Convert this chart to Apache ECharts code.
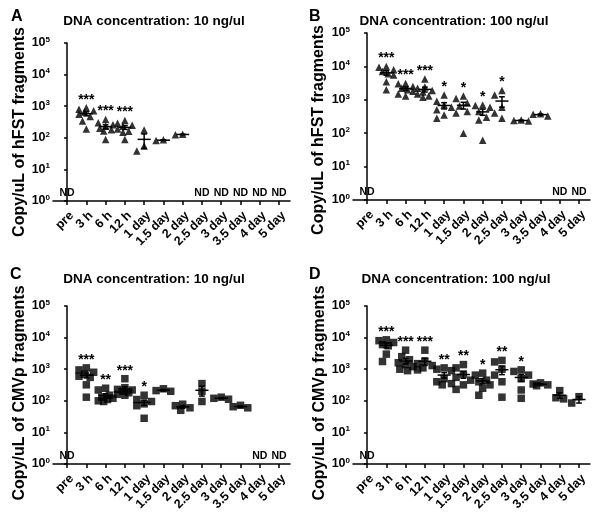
<!DOCTYPE html>
<html><head><meta charset="utf-8">
<script src="https://cdn.jsdelivr.net/npm/echarts@6/dist/echarts.min.js"></script>
<style>html,body{margin:0;padding:0;background:#fff}#c{width:600px;height:516px}</style>
</head><body><div id="c"></div>
<script>
// ---------- data ----------
const categories = ['pre','3 h','6 h','12 h','1 day','1.5 day','2 day','2.5 day','3 day','3.5 day','4 day','5 day'];
const tickExponents = [0,1,2,3,4,5];

// null = ND (not detected)
const hfst10 = [null,
  [900, 800, 720, 650, 560, 470, 340, 190],
  [380, 300, 260, 230, 200, 180, 165, 88],
  [350, 290, 250, 230, 190, 160, 150, 88],
  [175, 55, 38],
  [86, 82],
  [130, 125],
  null, null, null, null, null];
const hfst100 = [null,
  [10000, 9500, 8000, 7000, 6000, 5500, 3500, 2000],
  [3100, 3000, 2500, 2200, 2000, 1800, 1500, 1300],
  [4200, 2400, 2200, 1900, 1700, 1500, 1300, 1200],
  [1400, 900, 700, 600, 500, 350, 280],
  [1300, 1100, 800, 650, 450, 400, 100],
  [700, 680, 600, 450, 300, 250, 62],
  [1900, 1400, 600, 400, 280],
  [240, 250, 230],
  [330, 380, 370],
  null, null];
const cmv10 = [null,
  [1100, 950, 800, 700, 600, 550, 320, 130],
  [250, 220, 150, 130, 120, 110, 100, 95],
  [500, 260, 230, 220, 200, 180, 160, 150],
  [150, 110, 95, 80, 70, 28],
  [240, 210, 200],
  [78, 70, 60, 50],
  [350, 200, 95],
  [130, 120, 112],
  [60, 65, 72],
  null, null];
const cmv100 = [null,
  [8500, 8000, 7000, 6000, 5500, 3000, 1750],
  [4000, 2500, 2000, 1600, 1400, 1200, 1000, 900],
  [4000, 1800, 1500, 1300, 1100, 950],
  [1100, 1000, 900, 500, 400, 350, 320],
  [1400, 1100, 700, 550, 450, 320, 230],
  [750, 650, 450, 400, 320, 250, 150],
  [1900, 1700, 1000, 650, 400, 130],
  [950, 850, 650, 500, 220, 120],
  [370, 340, 320, 300],
  [210, 125, 115],
  [135, 85]];

const starsA = ['','***','***','***','','','','','','','',''];
const starsB = ['','***','***','***','*','*','*','*','','','',''];
const starsC = ['','***','**','***','*','','','','','','',''];
const starsD = ['','***','***','***','**','**','*','**','*','','',''];

const panelLetters = ['A','B','C','D'];
const panelTitles = ['DNA concentration: 10 ng/ul','DNA concentration: 100 ng/ul','DNA concentration: 10 ng/ul','DNA concentration: 100 ng/ul'];
const yTitles = ['Copy/uL of hFST fragments','Copy/uL of hFST fragments','Copy/uL of CMVp fragments','Copy/uL of CMVp fragments'];

// ---------- layout ----------
const FONT = '"Liberation Sans", Arial, Helvetica, sans-serif';
const grids = [
  {left:53, top:43, width:237, height:158},
  {left:353, top:33, width:237, height:167},
  {left:53, top:306, width:237, height:158},
  {left:353, top:306, width:237, height:158}
];
const panels = [
  {data:hfst10, stars:starsA, symbol:'triangle'},
  {data:hfst100, stars:starsB, symbol:'triangle'},
  {data:cmv10, stars:starsC, symbol:'rect'},
  {data:cmv100, stars:starsD, symbol:'rect'}
];
const XMIN = -0.73, XMAX = 11.57;

function swarm(vals, decadePx, bandPx, size) {
  // deterministic horizontal spreading to avoid overlaps
  const order = vals.map((v,i)=>i).sort((a,b)=>vals[b]-vals[a]);
  const cand = [0,-0.2,0.2,-0.38,0.38,-0.1,0.1,-0.3,0.3];
  const placed = [];
  const offs = new Array(vals.length).fill(0);
  order.forEach(i => {
    const y = Math.log10(vals[i]) * decadePx;
    let best = 0, bestScore = -1;
    for (const c of cand) {
      let minD = Infinity;
      for (const p of placed) {
        const d = Math.hypot((c - p.x) * bandPx, y - p.y);
        if (d < minD) minD = d;
      }
      if (minD >= size) { best = c; bestScore = Infinity; break; }
      if (minD > bestScore) { bestScore = minD; best = c; }
    }
    offs[i] = best;
    placed.push({x:best, y:y});
  });
  return offs;
}

function meanSem(arr) {
  const n = arr.length;
  const m = arr.reduce((a,b)=>a+b,0)/n;
  if (n < 2) return [m, 0];
  const sd = Math.sqrt(arr.reduce((a,b)=>a+(b-m)*(b-m),0)/(n-1));
  return [m, sd/Math.sqrt(n)];
}

const option = {
  animation:false,
  backgroundColor:'#fff',
  textStyle:{fontFamily:FONT},
  title:[], grid:[], xAxis:[], yAxis:[], series:[], graphic:[]
};

const letterPos = [[6,4],[304,4],[5,262],[304,262]];
const titlePos = [[149,9],[449,9],[149,267],[451,267]];
const yTitlePos = [[20,132],[319,130],[20,393],[320,393]];

panels.forEach((p, k) => {
  const g = grids[k];
  option.grid.push(Object.assign({containLabel:false}, g));
  option.title.push({text:panelLetters[k], left:letterPos[k][0], top:letterPos[k][1],
    textStyle:{fontFamily:FONT, fontSize:16, fontWeight:'bold', color:'#000'}});
  option.title.push({text:panelTitles[k], left:titlePos[k][0], top:titlePos[k][1], textAlign:'center',
    textStyle:{fontFamily:FONT, fontSize:13.5, fontWeight:'bold', color:'#000'}});
  option.graphic.push({type:'text', x:yTitlePos[k][0], y:yTitlePos[k][1], rotation:Math.PI/2,
    style:{text:yTitles[k], fontFamily:FONT, fontSize:16, fontWeight:'bold', fill:'#000', align:'center', verticalAlign:'middle'}});

  option.xAxis.push({
    type:'value', gridIndex:k, min:XMIN, max:XMAX,
    splitLine:{show:false},
    axisLine:{show:true, onZero:false, lineStyle:{color:'#000', width:1.5}},
    axisTick:{show:true, length:4, lineStyle:{color:'#000', width:1.5}, customValues:categories.map((c,i)=>i)},
    axisLabel:{rotate:45, margin:8, color:'#000', fontFamily:FONT, fontSize:12.5, fontWeight:'bold',
      verticalAlign:'top',
      customValues:categories.map((c,i)=>i), formatter:v=>categories[Math.round(v)] || ''}
  });
  option.yAxis.push({
    type:'log', logBase:10, gridIndex:k, min:1, max:100000,
    splitLine:{show:false}, minorTick:{show:false},
    axisLine:{show:true, lineStyle:{color:'#000', width:1.5}},
    axisTick:{show:true, length:3, lineStyle:{color:'#000', width:1.5}},
    axisLabel:{margin:3, color:'#000', fontFamily:FONT,
      formatter:v=>{const e=Math.round(Math.log10(v)); return '{b|10}{s|'+e+'}';},
      rich:{b:{fontSize:12.5, fontWeight:'bold', fontFamily:FONT, color:'#000'},
            s:{fontSize:8, fontWeight:'bold', fontFamily:FONT, color:'#000', verticalAlign:'top', padding:[0,0,7,0]}}}
  });

  const decadePx = g.height/5, bandPx = g.width/(XMAX-XMIN);
  const pts = [], stats = [], starData = [], starText = [], ndData = [];
  p.data.forEach((vals, i) => {
    if (!vals) { ndData.push([i, 1]); return; }
    const offs = swarm(vals, decadePx, bandPx, 7.5);
    vals.forEach((v, j) => pts.push([i + offs[j], v]));
    const ms = meanSem(vals);
    stats.push([i, ms[0], ms[1]]);
    if (p.stars[i]) { starData.push([i, Math.max.apply(null, vals)]); starText.push(p.stars[i]); }
  });

  option.series.push({type:'scatter', xAxisIndex:k, yAxisIndex:k, data:pts, symbol:p.symbol, symbolSize:7.5,
    itemStyle:{color:'#000'}, z:2, silent:true});
  option.series.push({type:'custom', xAxisIndex:k, yAxisIndex:k, data:stats, z:3, silent:true,
    renderItem:(params, api)=>{
      const x = api.value(0), m = api.value(1), s = api.value(2);
      const hi = m + s, lo = Math.max(m - s, 1.01);
      const a = api.coord([x-0.34, m]), b = api.coord([x+0.34, m]);
      const t = api.coord([x, hi]), u = api.coord([x, lo]);
      const ct1 = api.coord([x-0.15, hi]), ct2 = api.coord([x+0.15, hi]);
      const cb1 = api.coord([x-0.15, lo]), cb2 = api.coord([x+0.15, lo]);
      const st = {stroke:'#000', lineWidth:1.5};
      return {type:'group', children:[
        {type:'line', shape:{x1:a[0],y1:a[1],x2:b[0],y2:b[1]}, style:st},
        {type:'line', shape:{x1:t[0],y1:t[1],x2:u[0],y2:u[1]}, style:st},
        {type:'line', shape:{x1:ct1[0],y1:ct1[1],x2:ct2[0],y2:ct2[1]}, style:st},
        {type:'line', shape:{x1:cb1[0],y1:cb1[1],x2:cb2[0],y2:cb2[1]}, style:st}
      ]};
    }});
  option.series.push({type:'custom', xAxisIndex:k, yAxisIndex:k, data:starData, z:4, silent:true,
    renderItem:(params, api)=>{
      const c = api.coord([api.value(0), api.value(1)]);
      return {type:'text', x:c[0], y:c[1]-1, style:{text:starText[params.dataIndex], fontFamily:FONT, fontSize:14,
        fontWeight:'bold', fill:'#000', align:'center', verticalAlign:'bottom'}};
    }});
  option.series.push({type:'custom', xAxisIndex:k, yAxisIndex:k, data:ndData, z:4, silent:true,
    renderItem:(params, api)=>{
      const c = api.coord([api.value(0), api.value(1)]);
      return {type:'text', x:c[0], y:c[1]-2, style:{text:'ND', fontFamily:FONT, fontSize:10.5,
        fontWeight:'bold', fill:'#000', align:'center', verticalAlign:'bottom'}};
    }});
});

const chart = echarts.init(document.getElementById('c'), null, {renderer:'canvas'});
chart.setOption(option);
</script></body></html>
